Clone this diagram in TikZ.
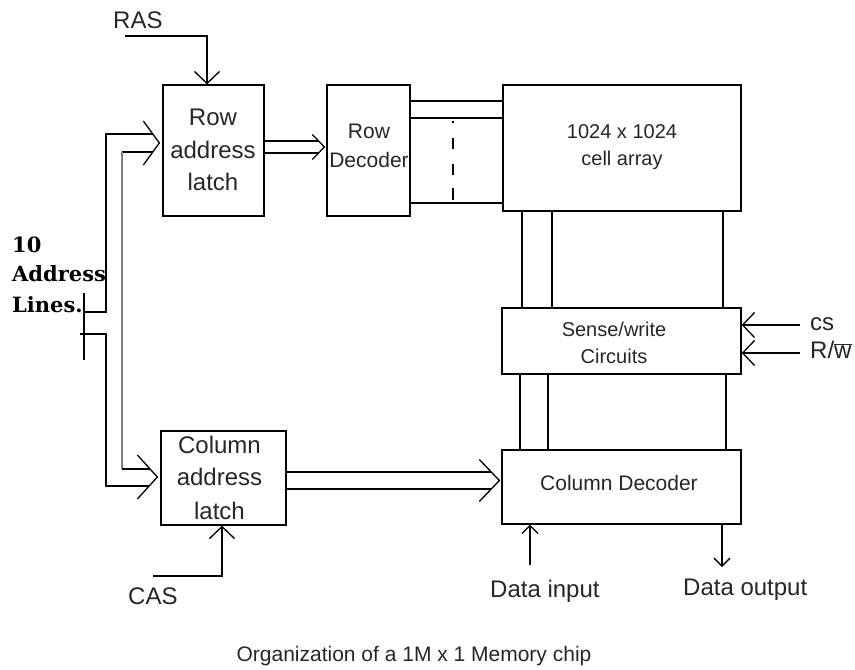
\documentclass[tikz,border=0pt]{standalone}
\usepackage{fontspec}
\setmainfont{Liberation Sans}
\newfontfamily\slabfont{DejaVu Serif}
\usetikzlibrary{arrows.meta,calc}
\newcommand\fsz[1]{\fontsize{#1}{#1}\selectfont}
% open V-shaped head of a two-line bus, tip at #1, half-length #2, half-height #3
\newcommand\buschevron[3]{\draw[chev] ($(#1)+(-#2,-#3)$) -- (#1) -- ($(#1)+(-#2,#3)$);}
\tikzset{
  blk/.style={draw, line width=1.3pt, inner sep=0pt},
  wire/.style={line width=1.3pt},
  chev/.style={line width=1.3pt, line join=miter},
  sig/.style={wire, -{Straight Barb[length=12pt,width=25pt,line width=1.3pt]}},
  sigs/.style={wire, -{Straight Barb[length=8pt,width=16pt,line width=1.3pt]}},
  txt/.style={inner sep=0pt, anchor=base, text=black!85},
  txtw/.style={txt, anchor=base west},
}
\begin{document}
\begin{tikzpicture}[x=1pt,y=-1pt]
\useasboundingbox (0,0) rectangle (855,670);

% ---- blocks ----
\node[blk, minimum width=101pt, minimum height=131pt] (ral)   at (213.5,150.5) {};
\node[blk, minimum width=83pt,  minimum height=131pt] (rdec)  at (368.5,150.5) {};
\node[blk, minimum width=238pt, minimum height=126pt] (cell)  at (622,148) {};
\node[blk, minimum width=239pt, minimum height=66pt]  (sense) at (621.5,341) {};
\node[blk, minimum width=239pt, minimum height=74pt]  (cdec)  at (621.5,487) {};
\node[blk, minimum width=125pt, minimum height=94pt]  (cal)   at (223.5,478) {};

% ---- block texts ----
\node[txt, font=\fsz{24}] (ral1) at (213,125) {Row};
\node[txt, font=\fsz{24}] (ral2) at (213,158) {address};
\node[txt, font=\fsz{24}] (ral3) at (213,190) {latch};
\node[txt, font=\fsz{21}] (rd1) at (369,138) {Row};
\node[txt, font=\fsz{21}] (rd2) at (369,167) {Decoder};
\node[txt, font=\fsz{20}] (ca1) at (622,138) {1024 x 1024};
\node[txt, font=\fsz{20}] (ca2) at (622,165) {cell array};
\node[txt, font=\fsz{20}] (sw1) at (614,336) {Sense/write};
\node[txt, font=\fsz{20}] (sw2) at (614,363) {Circuits};
\node[txt, font=\fsz{21}] (cd1) at (619,490) {Column Decoder};
\node[txt, font=\fsz{24}] (cl1) at (219.5,453) {Column};
\node[txt, font=\fsz{24}] (cl2) at (219.5,485) {address};
\node[txt, font=\fsz{24}] (cl3) at (219.5,519) {latch};

% ---- free labels ----
\node[txtw, font=\fsz{24}] (ras) at (113,28) {RAS};
\node[txtw, font=\fsz{24}] (cas) at (128,604) {CAS};
\node[txtw, font=\fsz{24}] (cs)  at (810,330) {cs};
\node[txtw, font=\fsz{24}] (rw)  at (810,358) {R/$\overline{\mbox{w}}$};
\node[txtw, font=\fsz{24}] (di)  at (490,597) {Data input};
\node[txtw, font=\fsz{24}] (do)  at (683,595) {Data output};
\node[txt,  font=\fsz{21}] (cap) at (414,661) {Organization of a 1M x 1 Memory chip};
\node[txtw, font=\slabfont\bfseries\fsz{21}, text=black] (al1) at (12,252) {10};
\node[txtw, font=\slabfont\bfseries\fsz{21}, text=black] (al2) at (12,281) {Address};
\node[txtw, font=\slabfont\bfseries\fsz{21}, text=black] (al3) at (12,312) {Lines.};

% ---- strobe inputs ----
\coordinate (rasA) at (125,36);
\draw[sig] (rasA) -| ([xshift=-6.5pt]ral.north);
\coordinate (casA) at (153,576);
\draw[sig] (casA) -| ([xshift=-1.5pt]cal.south);

% ---- address bus split ----
\draw[wire] (84,293) -- (84,360);
\coordinate (adrUp) at (84,312);
\coordinate (adrDn) at (80,334);
\draw[wire] (adrUp) -| (106,134) -- ([xshift=-9.5pt]ral.west |- 0,134);
\draw[wire] ([xshift=-9.5pt]ral.west |- 0,152) -- (122,152);
\draw[line width=2pt, black!50] (122,152) -- (122,469);
\draw[wire] (122,469) -- ([xshift=-10.3pt]cal.west |- 0,469);
\draw[wire] (adrDn) -| (106,486) -- ([xshift=-11.2pt]cal.west |- 0,486);
\coordinate (ralTip) at ([xshift=-3pt]ral.west |- 0,143);
\buschevron{ralTip}{16}{22}
\coordinate (calTip) at ([xshift=-3pt]cal.west |- 0,477);
\buschevron{calTip}{20}{22}

% ---- row latch to row decoder ----
\coordinate (rdTip) at ([xshift=-2pt]rdec.west |- 0,147);
\draw[wire] (ral.east |- 0,141) -- ([xshift=-8pt]rdec.west |- 0,141);
\draw[wire] (ral.east |- 0,153) -- ([xshift=-8pt]rdec.west |- 0,153);
\buschevron{rdTip}{12}{12.5}

% ---- column latch to column decoder ----
\coordinate (cdTip) at ([xshift=-2pt]cdec.west |- 0,480.5);
\draw[wire] (cal.east |- 0,472) -- ([xshift=-10pt]cdec.west |- 0,472);
\draw[wire] (cal.east |- 0,489) -- ([xshift=-10pt]cdec.west |- 0,489);
\buschevron{cdTip}{20}{21}

% ---- word lines ----
\draw[wire] (rdec.east |- 0,101) -- (cell.west |- 0,101);
\draw[wire] (rdec.east |- 0,118) -- (cell.west |- 0,118);
\draw[wire] (rdec.east |- 0,203) -- (cell.west |- 0,203);
\draw[wire, dash pattern=on 2pt off 15pt on 11pt off 15pt on 11pt off 13pt on 12pt off 30pt]
  (453,121) -- (453,200);

% ---- bit lines ----
\draw[wire] (522,0 |- cell.south) -- (522,0 |- sense.north);
\draw[wire] (552,0 |- cell.south) -- (552,0 |- sense.north);
\draw[wire] (723,0 |- cell.south) -- (723,0 |- sense.north);
\draw[wire] (520,0 |- sense.south) -- (520,0 |- cdec.north);
\draw[wire] (548,0 |- sense.south) -- (548,0 |- cdec.north);
\draw[wire] (726,0 |- sense.south) -- (726,0 |- cdec.north);

% ---- control inputs ----
\coordinate (csA) at (800,325);
\coordinate (rwA) at (800,353);
\draw[sig] (csA) -- (csA -| sense.east);
\draw[sig] (rwA) -- (rwA -| sense.east);

% ---- data ----
\coordinate (dinA) at (530,565);
\coordinate (doutA) at (722,567);
\draw[sigs] (dinA) -- (dinA |- cdec.south);
\draw[sigs] (doutA |- cdec.south) -- (doutA);
\end{tikzpicture}
\end{document}
